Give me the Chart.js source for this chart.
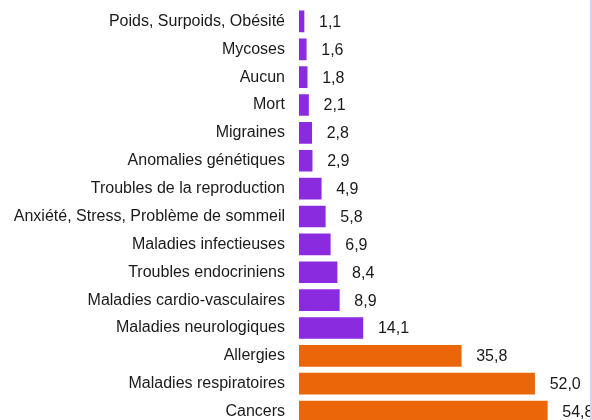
<!DOCTYPE html>
<html>
<head>
<meta charset="utf-8">
<script src="https://cdn.jsdelivr.net/npm/chart.js@4/dist/chart.umd.min.js"></script>
<style>
  html, body { margin: 0; padding: 0; background: #fff; overflow: hidden; }
  #wrap { position: relative; width: 592px; height: 432px; }
  #edge { position: absolute; left: 590px; top: 0; width: 2px; height: 420px; background: #dccff0; }
</style>
</head>
<body>
<div id="wrap">
  <canvas id="c" width="592" height="432"></canvas>
  <div id="edge"></div>
</div>
<script>
const categories = [
  "Poids, Surpoids, Obésité",
  "Mycoses",
  "Aucun",
  "Mort",
  "Migraines",
  "Anomalies génétiques",
  "Troubles de la reproduction",
  "Anxiété, Stress, Problème de sommeil",
  "Maladies infectieuses",
  "Troubles endocriniens",
  "Maladies cardio-vasculaires",
  "Maladies neurologiques",
  "Allergies",
  "Maladies respiratoires",
  "Cancers"
];
const values = [1.1, 1.6, 1.8, 2.1, 2.8, 2.9, 4.9, 5.8, 6.9, 8.4, 8.9, 14.1, 35.8, 52.0, 54.8];
const highlighted = [false, false, false, false, false, false, false, false, false, false, false, false, true, true, true];

const PURPLE = "#8b2be0";
const ORANGE = "#eb6608";
const FONT = "'Liberation Sans', Arial, Helvetica, sans-serif";

const valueLabels = {
  id: "valueLabels",
  afterDatasetsDraw(chart) {
    const ctx = chart.ctx;
    const meta = chart.getDatasetMeta(0);
    ctx.save();
    ctx.font = "16px " + FONT;
    ctx.fillStyle = "#1a1a1a";
    ctx.textAlign = "left";
    ctx.textBaseline = "middle";
    meta.data.forEach((bar, i) => {
      const txt = values[i].toFixed(1).replace(".", ",");
      ctx.fillText(txt, bar.x + 15, bar.y + 1);
    });
    ctx.restore();
  }
};

new Chart(document.getElementById("c"), {
  type: "bar",
  data: {
    labels: categories,
    datasets: [{
      data: values,
      backgroundColor: highlighted.map(h => h ? ORANGE : PURPLE),
      borderWidth: 0,
      barThickness: 21,
      categoryPercentage: 1,
      barPercentage: 0.77
    }]
  },
  options: {
    indexAxis: "y",
    responsive: false,
    animation: false,
    devicePixelRatio: 1,
    layout: { padding: { left: 0, right: 3, top: 7.5, bottom: 6.5 } },
    plugins: { legend: { display: false }, tooltip: { enabled: false } },
    scales: {
      x: {
        display: false,
        min: 0,
        max: 64
      },
      y: {
        grid: { display: false, drawTicks: false },
        border: { display: false },
        ticks: {
          color: "#1a1a1a",
          font: { size: 16, family: FONT },
          padding: 14,
          autoSkip: false
        },
        afterFit(scale) {
          scale.width = 299;
          scale.paddingTop = 0;
          scale.paddingBottom = 0;
        }
      }
    }
  },
  plugins: [valueLabels]
});
</script>
</body>
</html>
